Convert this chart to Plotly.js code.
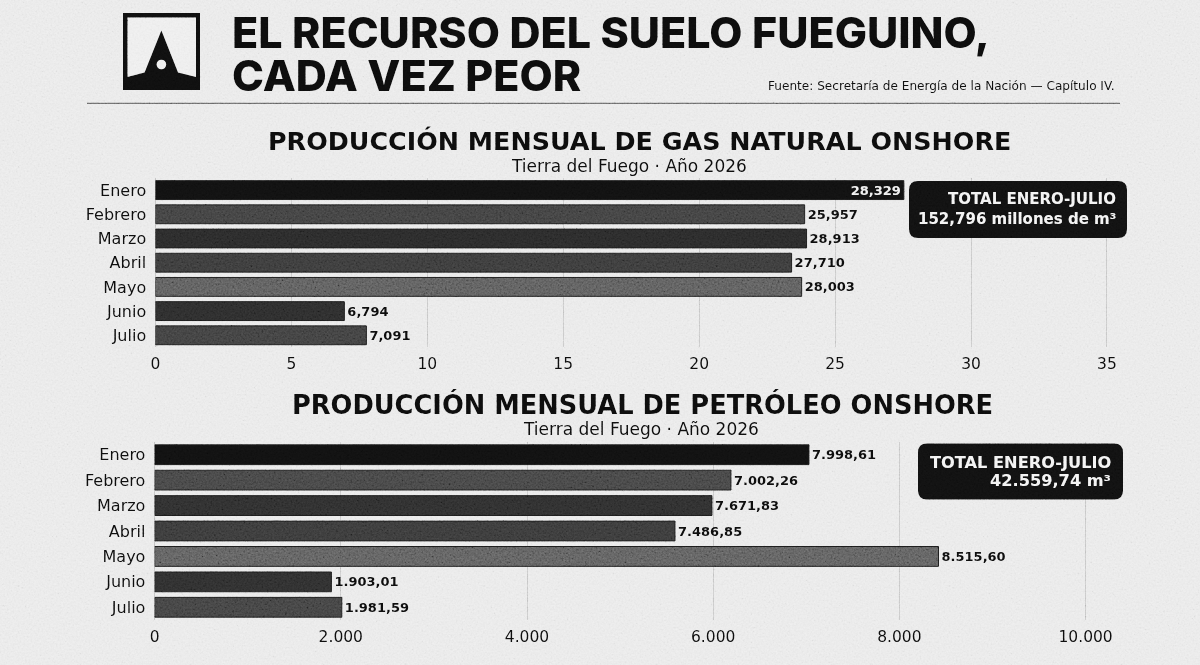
<!DOCTYPE html>
<html>
<head>
<meta charset="utf-8">
<script src="https://cdn.plot.ly/plotly-3.0.1.min.js"></script>
<style>
html, body { margin: 0; padding: 0; background: #e8e8e8; }
#chart { position: relative; width: 1200px; height: 665px; }
#plotDiv { width: 1200px; height: 665px; }
/* paper grain */
#grain { position: absolute; left: 0; top: 0; width: 1200px; height: 665px; pointer-events: none; mix-blend-mode: overlay; opacity: 0.4; }
</style>
</head>
<body>
<div id="chart">
  <div id="plotDiv"></div>
  <svg id="grain" xmlns="http://www.w3.org/2000/svg">
    <filter id="n"><feTurbulence type="fractalNoise" baseFrequency="0.55" numOctaves="3" seed="4"/><feColorMatrix type="matrix" values="0.6 0.6 0.6 0 -0.45 0.6 0.6 0.6 0 -0.45 0.6 0.6 0.6 0 -0.45 0 0 0 0 1"/></filter>
    <rect width="1200" height="665" filter="url(#n)"/>
  </svg>
</div>
<script>
'use strict';

const months = ['Enero', 'Febrero', 'Marzo', 'Abril', 'Mayo', 'Junio', 'Julio'];

// bar lengths are read off the axis, the printed labels do not agree with them in the picture
const gasBars = [27.53, 23.88, 23.95, 23.40, 23.77, 6.95, 7.76];
const gasLabels = ['28,329', '25,957', '28,913', '27,710', '28,003', '6,794', '7,091'];
const gasTicks = [0, 5, 10, 15, 20, 25, 30, 35];

const oilBars = [7029, 6191, 5987, 5590, 8420, 1899, 2011];
const oilLabels = ['7.998,61', '7.002,26', '7.671,83', '7.486,85', '8.515,60', '1.903,01', '1.981,59'];
const oilTicks = [0, 2000, 4000, 6000, 8000, 10000];
const oilTickLabels = ['0', '2.000', '4.000', '6.000', '8.000', '10.000'];

const gasColors = ['#101010', '#3e3e3e', '#282828', '#383838', '#585858', '#2a2a2a', '#3d3d3d'];
const oilColors = ['#101010', '#424242', '#2c2c2c', '#373737', '#5a5a5a', '#2c2c2c', '#3f3f3f'];

const W = 1200, H = 665;
const SANS = 'DejaVu Sans, sans-serif';

function px(x) { return x / W; }
function py(y) { return 1 - y / H; }

function roundBox(x0, y0, x1, y1, r) {
    let p = 'M' + px(x0 + r) + ',' + py(y0);
    p += ' L' + px(x1 - r) + ',' + py(y0) + ' Q' + px(x1) + ',' + py(y0) + ' ' + px(x1) + ',' + py(y0 + r);
    p += ' L' + px(x1) + ',' + py(y1 - r) + ' Q' + px(x1) + ',' + py(y1) + ' ' + px(x1 - r) + ',' + py(y1);
    p += ' L' + px(x0 + r) + ',' + py(y1) + ' Q' + px(x0) + ',' + py(y1) + ' ' + px(x0) + ',' + py(y1 - r);
    p += ' L' + px(x0) + ',' + py(y0 + r) + ' Q' + px(x0) + ',' + py(y0) + ' ' + px(x0 + r) + ',' + py(y0) + ' Z';
    return { type: 'path', xref: 'paper', yref: 'paper', path: p, fillcolor: '#101010', line: { width: 0 }, layer: 'above' };
}

function rect(x0, y0, x1, y1, color) {
    return { type: 'rect', xref: 'paper', yref: 'paper', x0: px(x0), x1: px(x1), y0: py(y1), y1: py(y0),
             fillcolor: color, line: { width: 0 }, layer: 'above' };
}

function polygon(points, color) {
    const p = points.map((q, i) => (i ? 'L' : 'M') + px(q[0]) + ',' + py(q[1])).join(' ') + ' Z';
    return { type: 'path', xref: 'paper', yref: 'paper', path: p, fillcolor: color, line: { width: 0 }, layer: 'above' };
}

function label(text, x, y, size, opts) {
    return Object.assign({
        text: text, x: px(x), y: py(y), xref: 'paper', yref: 'paper', showarrow: false,
        xanchor: 'center', yanchor: 'middle', font: { family: SANS, size: size, color: '#0c0c0c' }
    }, opts || {});
}

function barTrace(values, labels, colors, xa, ya, firstInside) {
    return {
        type: 'bar', orientation: 'h', x: values, y: months, xaxis: xa, yaxis: ya,
        text: labels,
        textposition: labels.map((t, i) => (firstInside && i === 0) ? 'inside' : 'outside'),
        insidetextanchor: 'end',
        constraintext: 'none',
        cliponaxis: false,
        textangle: 0,
        textfont: { family: SANS, size: 13, weight: 700,
                    color: labels.map((t, i) => (firstInside && i === 0) ? '#eeeeee' : '#0c0c0c') },
        marker: { color: colors, line: { color: '#1a1a1a', width: 1 } },
        hoverinfo: 'skip'
    };
}

const xBase = {
    showgrid: true, gridcolor: '#c4c4c4', gridwidth: 1, zeroline: true, zerolinecolor: '#bdbdbd',
    showline: false, ticks: 'outside', ticklen: 2, tickcolor: 'rgba(0,0,0,0)',
    tickfont: { family: SANS, size: 15.5, color: '#0c0c0c' }, fixedrange: true
};
const yBase = {
    type: 'category', autorange: false, range: [6.5, -0.5], showgrid: false, zeroline: false, showline: false,
    ticks: 'outside', ticklen: 5, tickcolor: 'rgba(0,0,0,0)',
    tickfont: { family: SANS, size: 16, color: '#0c0c0c' }, fixedrange: true
};

const data = [
    barTrace(gasBars, gasLabels, gasColors, 'x', 'y', true),
    barTrace(oilBars, oilLabels, oilColors, 'x2', 'y2', false)
];

const layout = {
    width: W, height: H, autosize: false,
    margin: { l: 0, r: 0, t: 0, b: 0, pad: 0 },
    paper_bgcolor: '#e8e8e8', plot_bgcolor: 'rgba(0,0,0,0)',
    showlegend: false, bargap: 0.22,
    // ranges run a hair past the last tick so its gridline is kept
    xaxis: Object.assign({}, xBase, { domain: [px(155.4), px(1109.7)], range: [0, 35.1], anchor: 'y',
        tickvals: gasTicks, ticktext: gasTicks.map(String) }),
    yaxis: Object.assign({}, yBase, { domain: [py(347.4), py(178)], anchor: 'x' }),
    xaxis2: Object.assign({}, xBase, { domain: [px(154.6), px(1088.4)], range: [0, 10030], anchor: 'y2',
        tickvals: oilTicks, ticktext: oilTickLabels }),
    yaxis2: Object.assign({}, yBase, { domain: [py(620), py(442)], anchor: 'x2' }),
    shapes: [
        rect(123, 13, 200, 90, '#0e0e0e'),
        rect(127.5, 17.5, 196, 77, '#ececec'),
        polygon([[161.4, 30.5], [178, 72.5], [196, 77], [196, 80], [127.5, 80], [127.5, 77], [144.6, 72.5]], '#0e0e0e'),
        { type: 'circle', xref: 'paper', yref: 'paper', x0: px(156.6), x1: px(166.2), y0: py(69.3), y1: py(59.7),
          fillcolor: '#ececec', line: { width: 0 }, layer: 'above' },
        { type: 'line', xref: 'paper', yref: 'paper', x0: px(87), x1: px(1120), y0: py(103.3), y1: py(103.3),
          line: { color: '#444444', width: 1 }, layer: 'above' },
        roundBox(909, 181, 1127, 238, 9),
        roundBox(918, 443.5, 1123, 499.5, 9)
    ],
    annotations: [
        label('EL RECURSO DEL SUELO FUEGUINO,', 230, 31.5, 43,
              { xanchor: 'left', font: { family: 'Inter, sans-serif', size: 43, weight: 800, color: '#0c0c0c' } }),
        label('CADA VEZ PEOR', 230, 74.5, 43,
              { xanchor: 'left', font: { family: 'Inter, sans-serif', size: 43, weight: 800, color: '#0c0c0c' } }),
        label('Fuente: Secretaría de Energía de la Nación — Capítulo IV.', 1116.5, 86, 12.1,
              { xanchor: 'right' }),
        label('PRODUCCIÓN MENSUAL DE GAS NATURAL ONSHORE', 639, 141, 25.4,
              { font: { family: SANS, size: 25.4, weight: 700, color: '#0c0c0c' } }),
        label('Tierra del Fuego · Año 2026', 629, 165.5, 17),
        label('PRODUCCIÓN MENSUAL DE PETRÓLEO ONSHORE', 642, 404.5, 25.7,
              { font: { family: SANS, size: 25.7, weight: 700, color: '#0c0c0c' } }),
        label('Tierra del Fuego · Año 2026', 641, 429, 17),
        label('TOTAL ENERO-JULIO', 1118, 199, 15,
              { xanchor: 'right', font: { family: SANS, size: 15, weight: 700, color: '#f2f2f2' } }),
        label('152,796 millones de m³', 1118, 219, 15,
              { xanchor: 'right', font: { family: SANS, size: 15, weight: 700, color: '#f2f2f2' } }),
        label('TOTAL ENERO-JULIO', 1113, 462, 16.2,
              { xanchor: 'right', font: { family: SANS, size: 16.2, weight: 700, color: '#f2f2f2' } }),
        label('42.559,74 m³', 1113, 481, 16.2,
              { xanchor: 'right', font: { family: SANS, size: 16.2, weight: 700, color: '#f2f2f2' } })
    ]
};

Plotly.newPlot('plotDiv', data, layout, { displayModeBar: false, staticPlot: true });
</script>
</body>
</html>
